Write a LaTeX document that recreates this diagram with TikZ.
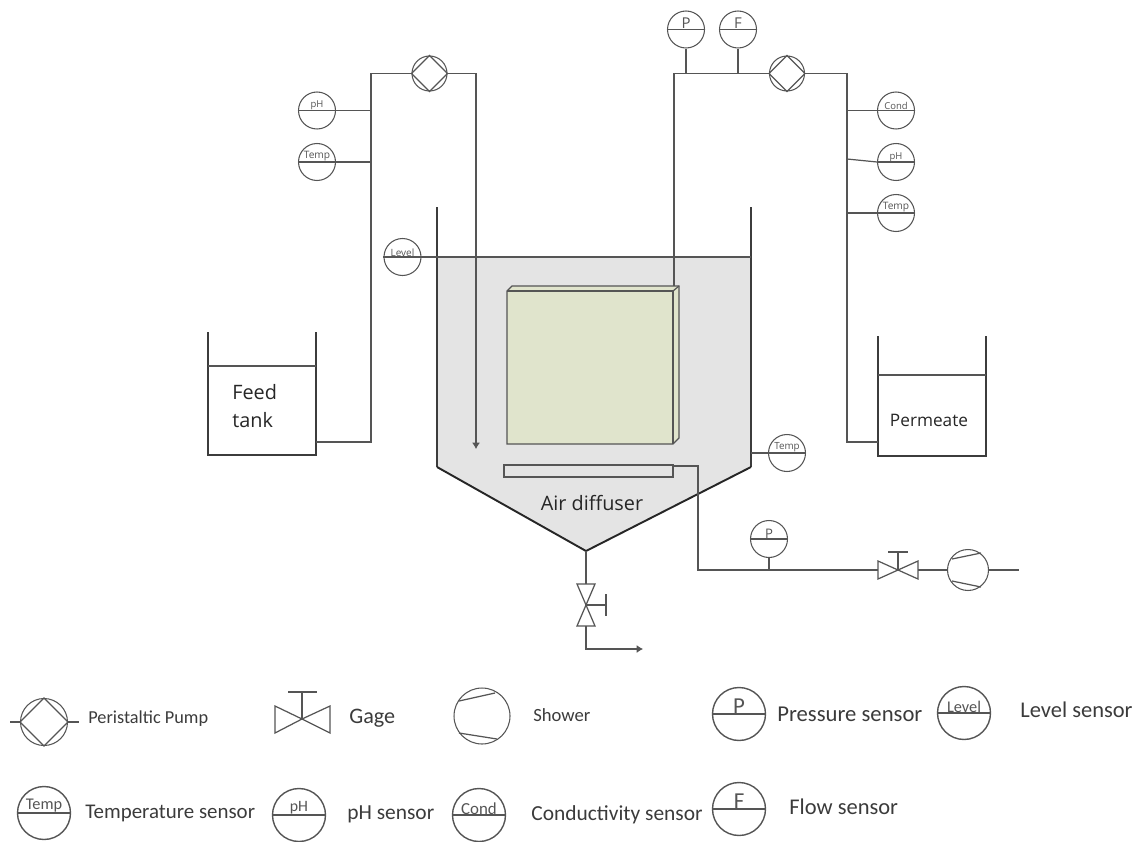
\documentclass[tikz,border=0pt]{standalone}
\usepackage{fontspec}
\setmainfont{Carlito}
\newfontfamily\plantfont{Open Sans}
\usetikzlibrary{calc,arrows.meta}
\definecolor{linegray}{HTML}{555555}
\definecolor{tankgray}{HTML}{E4E4E4}
\definecolor{moduleolive}{HTML}{E0E4CC}
\tikzset{
  pipe/.style={draw=linegray,line width=0.7pt},
  flow/.style={pipe,-{Latex[width=4.6pt,length=3.6pt]}},
  wall/.style={draw=linegray!70!black,line width=1pt},
  slope/.style={draw=black!85,line width=1.1pt},
  sensor/.style={circle,draw=linegray,line width=0.6pt,fill=white,minimum size=0.74cm,inner sep=0pt},
  bigsensor/.style={circle,draw=linegray,line width=0.8pt,fill=white,minimum size=1.06cm,inner sep=0pt},
  pump/.style={circle,draw=linegray,line width=0.6pt,fill=white,minimum size=0.70cm,inner sep=0pt},
  tag/.style={font=\plantfont\selectfont,text=linegray,inner sep=0.2pt},
  bigtag/.style={text=linegray,inner sep=0.2pt},
  plantlabel/.style={font=\plantfont\fontsize{11.3}{15.9}\selectfont,text=black!85,inner sep=0pt},
  legendlabel/.style={font=\fontsize{12.6}{14}\selectfont,text=linegray!70!black,anchor=west,inner sep=0pt},
}
\begin{document}
\begin{tikzpicture}[>=Latex,x=0.02cm,y=-0.02cm]
  \useasboundingbox (0,0) rectangle (1141,841);
  % main tank
  \fill[tankgray] (437,257) -- (751,257) -- (751,467) -- (586,551) -- (437,467) -- cycle;
  \draw[wall] (437,207) -- (437,467);
  \draw[wall] (751,467) -- (751,207);
  \draw[slope] (437,467) -- (586,551) -- (751,467);
  % membrane module
  \fill[moduleolive,draw=linegray,line width=0.7pt] (507,291) -- (512,286) -- (679,286) -- (679,438) -- (673,444) -- (507,444) -- cycle;
  \draw[pipe] (507,291) -- (673,291) -- (673,444);
  \draw[pipe] (673,291) -- (679,286);
  \node[draw=linegray,line width=0.7pt,minimum width=3.38cm,minimum height=0.24cm,inner sep=0pt] (diffuser) at (588.5,471) {};
  \node[plantlabel] (airlabel) at (592,503) {Air diffuser};
  % tanks at the sides
  \draw[wall] (208,332) -- (208,455) -- (316,455) -- (316,332);
  \draw[pipe] (208,366) -- (316,366);
  \draw[wall] (878,336) -- (878,456) -- (986,456) -- (986,336);
  \draw[pipe] (878,375) -- (986,375);
  \node[plantlabel,anchor=west,align=left] (feedlabel) at (232,406) {Feed\\tank};
  \node[plantlabel,font=\plantfont\fontsize{9.8}{12}\selectfont] (permlabel) at (929,420) {Permeate};
  % sensors
  \foreach \nm/\px/\py/\lab/\fs in {phfeed/317/110.5/pH/5.4,tempfeed/317/162/Temp/5.8,level/402.5/257/Level/5.7,pperm/686/29.5/P/8.5,fperm/738/29.5/F/8.5,cond/896/110.5/Cond/5.4,phperm/896/162/pH/5.4,tempperm/896/213/Temp/5.8,temptank/787/453/Temp/5.6,pair/769/539/P/7.5}{
    \node[sensor] (\nm) at (\px,\py) {};
    \draw[pipe] (\nm.west) -- (\nm.east);
    \node[tag,above,font=\plantfont\fontsize{\fs}{\fs}\selectfont] (\nm tag) at (\nm.center) {\lab};
  }
  \node[pump] (pumpfeed) at (429.5,73.5) {};
  \node[pump] (pumpperm) at (787,73.5) {};
  \foreach \nm in {pumpfeed,pumpperm}{
    \draw[pipe] (\nm.north) -- (\nm.east) -- (\nm.south) -- (\nm.west) -- cycle;
  }
  % pipe runs
  \draw[pipe] (316,442) -- (371,442) -- (371,73.5) -- (pumpfeed.west);
  \draw[flow] (pumpfeed.east) -- (476,73.5) -- (476,449);
  \draw[pipe] (phfeed.east) -- (371,110.5);
  \draw[pipe] (tempfeed.east) -- (371,162);
  \draw[pipe] (level.east) -- (751,257);
  \draw[pipe] (674,286) -- (674,73.5) -- (pumpperm.west);
  \draw[pipe] (pumpperm.east) -- (847,73.5) -- (847,442) -- (878,442);
  \draw[pipe] (pperm.south) -- (pperm.south |- pumpperm.west);
  \draw[pipe] (fperm.south) -- (fperm.south |- pumpperm.west);
  \draw[pipe] (847,110.5) -- (cond.west);
  \draw[pipe] (847,159) -- (phperm.west);
  \draw[pipe] (847,213) -- (tempperm.west);
  \draw[pipe] (751,453) -- (temptank.west);
  % air line
  \coordinate (gageair) at (898,570);
  \node[pump,minimum size=0.82cm] (shower) at (968,570) {};
  \draw[pipe] (diffuser.east |- 0,466) -- (698,466) -- (698,570) -- ($(gageair)+(-20,0)$);
  \draw[pipe] (pair.south) -- (pair.south |- gageair);
  \draw[pipe] (gageair) -- ++(-20,-9) -- ++(0,18) -- cycle;
  \draw[pipe] (gageair) -- ++(20,-9) -- ++(0,18) -- cycle;
  \draw[pipe] (gageair) -- ++(0,-18) ++(-10,0) -- ++(20,0);
  \draw[pipe] ($(gageair)+(20,0)$) -- (shower.west);
  \draw[pipe] (shower.east) -- (1019,570);
  \draw[pipe] ($(shower.center)+(-16,-11)$) -- ($(shower.center)+(13,-17)$);
  \draw[pipe] ($(shower.center)+(-16,11)$) -- ($(shower.center)+(13,17)$);
  % drain
  \coordinate (gagedrain) at (586,605);
  \draw[pipe] (586,551) -- (586,584);
  \draw[pipe] (gagedrain) -- ++(-9,-21) -- ++(18,0) -- cycle;
  \draw[pipe] (gagedrain) -- ++(-9,21) -- ++(18,0) -- cycle;
  \draw[pipe] (gagedrain) -- ++(20,0) ++(0,-11) -- ++(0,22);
  \draw[flow] (586,626) -- (586,649) -- (643,649);
  % legend
  \node[pump,minimum size=0.94cm] (keypump) at (44,722) {};
  \draw[pipe] (keypump.north) -- (keypump.east) -- (keypump.south) -- (keypump.west) -- cycle;
  \draw[pipe] (10,722) -- (keypump.west) (keypump.east) -- (79,722);
  \node[legendlabel,font=\fontsize{10.4}{12}\selectfont] (keypumptext) at (88,719) {Peristaltic Pump};
  \coordinate (keygage) at (302,719);
  \draw[pipe] (keygage) -- ++(-27,-13) -- ++(0,27) -- cycle;
  \draw[pipe] (keygage) -- ++(28,-13) -- ++(0,27) -- cycle;
  \draw[pipe] (keygage) -- ++(0,-27) ++(-14,0) -- ++(29,0);
  \node[legendlabel] (keygagetext) at (349,718) {Gage};
  \node[pump,minimum size=1.12cm] (keyshower) at (482,716) {};
  \draw[pipe] (459,701) -- (495,693);
  \draw[pipe] (459,733) -- (497,739);
  \node[legendlabel,font=\fontsize{10.6}{12}\selectfont] (keyshowertext) at (533,715) {Shower};
  \foreach \nm/\px/\py/\lab/\fs/\txt/\tx/\ty/\ls in {keyp/739/714/P/13/Pressure sensor/777/714/12.9,keylevel/964/713/Level/9.3/Level sensor/1020/710/12.8,keytemp/44/813/Temp/9.3/Temperature sensor/85/813/11.9,keyph/299/815/pH/9/pH sensor/347/814/12.2,keycond/479/815/Cond/9.6/Conductivity sensor/531/815/12.2,keyf/739/809/F/13/Flow sensor/789/807/12.8}{
    \node[bigsensor] (\nm) at (\px,\py) {};
    \draw[pipe] (\nm.west) -- (\nm.east);
    \node[bigtag,above,font=\fontsize{\fs}{\fs}\selectfont] (\nm tag) at (\nm.center) {\lab};
    \node[legendlabel,font=\fontsize{\ls}{14}\selectfont] (\nm text) at (\tx,\ty) {\txt};
  }
\end{tikzpicture}
\end{document}
